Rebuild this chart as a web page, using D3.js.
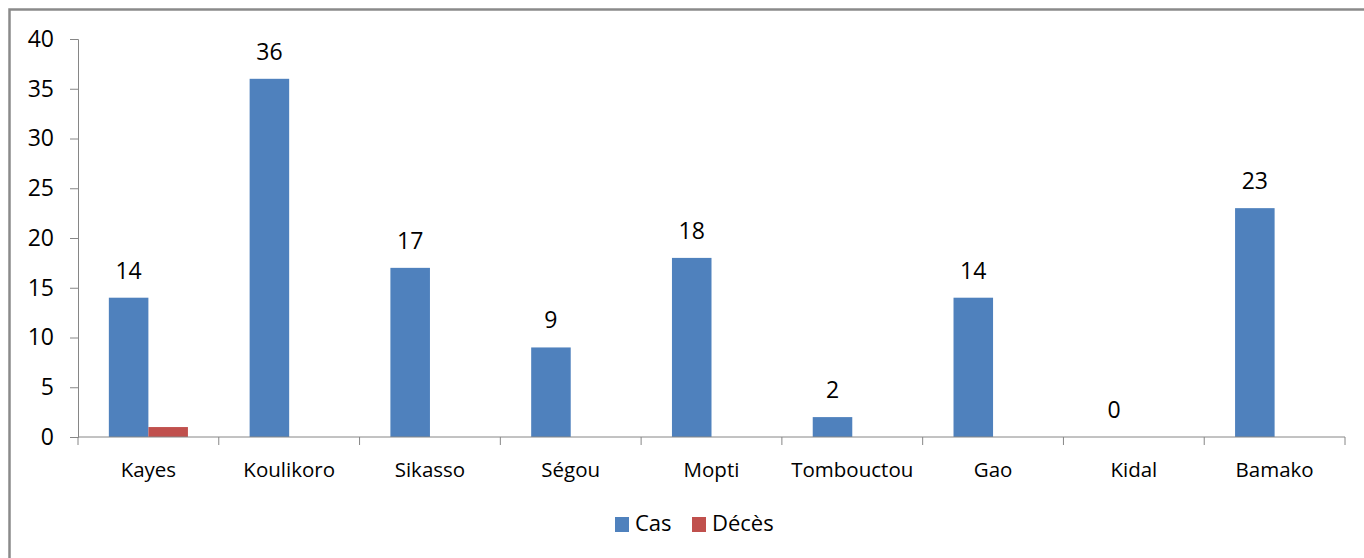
<!DOCTYPE html>
<html>
<head>
<meta charset="utf-8">
<script src="https://cdn.jsdelivr.net/npm/d3@7"></script>
<style>
  body { margin: 0; background: #fff; }
  svg { display: block; font-family: "Open Sans", sans-serif; }
</style>
</head>
<body>
<svg id="chart" width="1364" height="558"></svg>
<script>
const regions = ["Kayes", "Koulikoro", "Sikasso", "Ségou", "Mopti", "Tombouctou", "Gao", "Kidal", "Bamako"]
const cas = [14, 36, 17, 9, 18, 2, 14, 0, 23]
const deces = [1, 0, 0, 0, 0, 0, 0, 0, 0]
const seriesNames = ["Cas", "Décès"]
const colors = ["#4F81BD", "#C0504D"]
const yTicks = [0, 5, 10, 15, 20, 25, 30, 35, 40]

const width = 1364,
    height = 558,
    margin = {top: 39, right: 19, bottom: 121, left: 78}

const svg = d3.select('#chart')

// outer frame (only top and left edges are visible in the picture)
svg.append('rect')
    .attr('x', 9.5).attr('y', 9.5)
    .attr('width', width + 20).attr('height', height + 20)
    .attr('fill', 'none')
    .attr('stroke', '#8a8a8a')
    .attr('stroke-width', 2.5)

const x = d3.scaleBand()
    .domain(regions)
    .range([margin.left, width - margin.right])

const inner = d3.scaleBand()
    .domain(seriesNames)
    .range([0, x.bandwidth()])
    .paddingInner(0)
    .paddingOuter(0.78)

const y = d3.scaleLinear()
    .domain([0, 40])
    .range([height - margin.bottom, margin.top])

const rows = regions.map((r, i) => ({region: r, values: [cas[i], deces[i]]}))

// bars
const groups = svg.append('g')
    .selectAll('g')
    .data(rows)
    .enter()
    .append('g')
    .attr('transform', d => `translate(${x(d.region)},0)`)

groups.selectAll('rect')
    .data(d => d.values.map((v, k) => ({name: seriesNames[k], v: v, k: k})))
    .enter()
    .append('rect')
    .attr('x', d => inner(d.name))
    .attr('width', inner.bandwidth())
    .attr('y', d => y(d.v))
    .attr('height', d => y(0) - y(d.v))
    .attr('fill', d => colors[d.k])

// data labels for Cas
groups.append('text')
    .attr('x', inner('Cas') + inner.bandwidth() / 2)
    .attr('y', d => y(d.values[0]) - 19)
    .attr('text-anchor', 'middle')
    .attr('font-size', 23)
    .attr('fill', '#000')
    .text(d => d.values[0])

// y axis
const yAxis = d3.axisLeft(y)
    .tickValues(yTicks)
    .tickSize(8)
    .tickPadding(16)

const gy = svg.append('g')
    .attr('transform', `translate(${margin.left},0)`)
    .call(yAxis)
gy.select('.domain').attr('stroke', '#868686')
gy.selectAll('.tick line').attr('stroke', '#868686')
gy.selectAll('.tick text')
    .attr('font-size', 23)
    .attr('fill', '#000')
    .attr('font-family', '"Open Sans", sans-serif')

// x axis
const gx = svg.append('g')
    .attr('transform', `translate(0,${y(0)})`)
gx.append('line')
    .attr('x1', margin.left).attr('x2', width - margin.right)
    .attr('stroke', '#868686')
gx.selectAll('.sep')
    .data(regions.concat(['__end']))
    .enter()
    .append('line')
    .attr('x1', (d, i) => i < regions.length ? x(d) : x(regions[regions.length - 1]) + x.bandwidth())
    .attr('x2', (d, i) => i < regions.length ? x(d) : x(regions[regions.length - 1]) + x.bandwidth())
    .attr('y1', 0).attr('y2', 8)
    .attr('stroke', '#868686')
gx.selectAll('.lbl')
    .data(regions)
    .enter()
    .append('text')
    .attr('x', d => x(d) + x.bandwidth() / 2)
    .attr('y', 40)
    .attr('text-anchor', 'middle')
    .attr('font-size', 20.5)
    .attr('fill', '#000')
    .text(d => d)

// legend
const legend = svg.append('g')
    .attr('transform', 'translate(615,517)')
const items = legend.selectAll('g')
    .data(seriesNames)
    .enter()
    .append('g')
    .attr('transform', (d, i) => `translate(${i * 77},0)`)
items.append('rect')
    .attr('width', 14).attr('height', 15)
    .attr('fill', (d, i) => colors[i])
items.append('text')
    .attr('x', 20).attr('y', 14)
    .attr('font-size', 22)
    .attr('fill', '#000')
    .text(d => d)
</script>
</body>
</html>
